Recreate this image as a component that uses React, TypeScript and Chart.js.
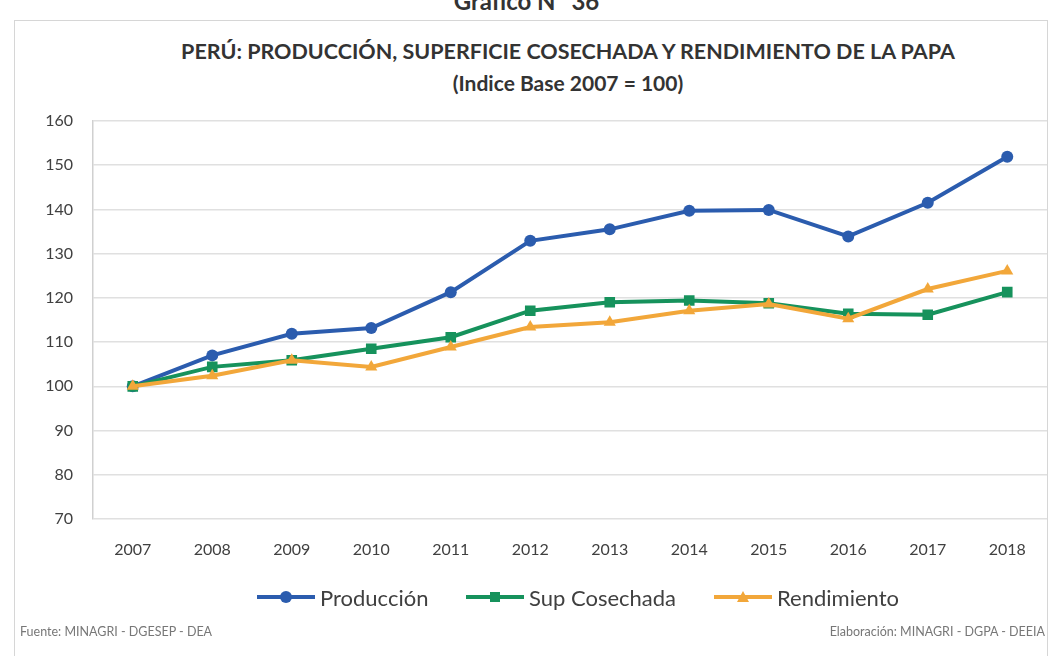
import React, { useEffect, useRef } from "react";
import { Chart, registerables } from "chart.js";

Chart.register(...registerables);

const years = ["2007", "2008", "2009", "2010", "2011", "2012", "2013", "2014", "2015", "2016", "2017", "2018"];
const produccion = [100, 107, 111.9, 113.2, 121.3, 132.9, 135.5, 139.7, 139.9, 133.9, 141.5, 151.9];
const supCosechada = [100, 104.4, 105.9, 108.5, 111.1, 117.1, 119.0, 119.4, 118.8, 116.4, 116.2, 121.3];
const rendimiento = [100, 102.4, 105.9, 104.4, 108.9, 113.4, 114.5, 117.1, 118.6, 115.3, 122.0, 126.1];
const seriesNames = ["Producción", "Sup Cosechada", "Rendimiento"];
const yMin = 70;
const yMax = 160;
const yStep = 10;

const BLUE = "#2B5CAE";
const GREEN = "#16925C";
const ORANGE = "#F2A73A";
const FONT = "Lato, 'Open Sans', sans-serif";

function LegendItem({ left, color, shape, label }: { left: number; color: string; shape: string; label: string }) {
  let marker: React.ReactNode = null;
  if (shape === "circle") marker = <circle cx={29} cy={9} r={6} fill={color} />;
  else if (shape === "rect") marker = <rect x={24} y={4} width={10} height={10} fill={color} />;
  else marker = <polygon points="29,3 35,14 23,14" fill={color} />;
  return (
    <div style={{ position: "absolute", left, top: 585, height: 24, display: "flex", alignItems: "center" }}>
      <svg width={58} height={18} style={{ display: "block" }}>
        <line x1={0} y1={9} x2={58} y2={9} stroke={color} strokeWidth={4} />
        {marker}
      </svg>
      <span style={{ marginLeft: 5, fontFamily: FONT, fontSize: 22, color: "#404040", whiteSpace: "nowrap" }}>{label}</span>
    </div>
  );
}

export default function App() {
  const canvasRef = useRef<HTMLCanvasElement | null>(null);

  useEffect(() => {
    if (!canvasRef.current) return;
    const chart = new Chart(canvasRef.current, {
      type: "line",
      data: {
        labels: years,
        datasets: [
          {
            label: seriesNames[0],
            data: produccion,
            borderColor: BLUE,
            backgroundColor: BLUE,
            borderWidth: 4,
            pointStyle: "circle",
            pointRadius: 6,
            pointBorderWidth: 0,
            order: 2,
          },
          {
            label: seriesNames[1],
            data: supCosechada,
            borderColor: GREEN,
            backgroundColor: GREEN,
            borderWidth: 4,
            pointStyle: "rect",
            pointRadius: 7.5,
            pointBorderWidth: 0,
            order: 1,
          },
          {
            label: seriesNames[2],
            data: rendimiento,
            borderColor: ORANGE,
            backgroundColor: ORANGE,
            borderWidth: 4,
            pointStyle: "triangle",
            pointRadius: 7,
            pointBorderWidth: 0,
            order: 0,
          },
        ],
      },
      options: {
        animation: false,
        responsive: false,
        maintainAspectRatio: false,
        layout: { padding: { left: 33, right: 10, top: 121, bottom: 87 } },
        plugins: { legend: { display: false }, tooltip: { enabled: false } },
        scales: {
          x: {
            offset: true,
            grid: { display: false, drawTicks: false },
            border: { display: false },
            ticks: { padding: 21, color: "#404040", font: { family: FONT, size: 16 } },
            afterFit: (s: any) => {
              s.height = 50;
            },
          },
          y: {
            min: yMin,
            max: yMax,
            ticks: { stepSize: yStep, padding: 20, color: "#404040", font: { family: FONT, size: 16 } },
            grid: { color: "#E0E0E0", lineWidth: 1.5, drawTicks: false },
            border: { display: true, color: "#D0D0D0", width: 1.5 },
            afterFit: (s: any) => {
              s.width = 60;
            },
          },
        },
      },
    });
    return () => chart.destroy();
  }, []);

  return (
    <div style={{ position: "fixed", left: 0, top: 0, width: 1057, height: 656, background: "#fff", overflow: "hidden" }}>
      <div
        style={{
          position: "absolute",
          left: 0,
          width: 1057,
          top: -14,
          textAlign: "center",
          fontFamily: FONT,
          fontWeight: 700,
          fontSize: 24,
          color: "#333",
        }}
      >
        <span style={{ position: "relative", left: -2 }}>Gráfico N° 36</span>
      </div>
      <div
        style={{
          position: "absolute",
          left: 14,
          top: 20,
          width: 1034,
          height: 700,
          border: "1.5px solid #D6D6D6",
          boxSizing: "border-box",
        }}
      />
      <div
        style={{
          position: "absolute",
          left: 0,
          width: 1136,
          top: 38,
          textAlign: "center",
          fontFamily: FONT,
          fontWeight: 700,
          fontSize: 21.5,
          color: "#333",
          whiteSpace: "nowrap",
        }}
      >
        PERÚ: PRODUCCIÓN, SUPERFICIE COSECHADA Y RENDIMIENTO DE LA PAPA
      </div>
      <div
        style={{
          position: "absolute",
          left: 0,
          width: 1136,
          top: 70,
          textAlign: "center",
          fontFamily: FONT,
          fontWeight: 700,
          fontSize: 21,
          color: "#333",
          whiteSpace: "nowrap",
        }}
      >
        (Indice Base 2007 = 100)
      </div>
      <canvas ref={canvasRef} width={1057} height={656} style={{ position: "absolute", left: 0, top: 0, width: 1057, height: 656 }} />
      <LegendItem left={257} color={BLUE} shape="circle" label={seriesNames[0]} />
      <LegendItem left={466} color={GREEN} shape="rect" label={seriesNames[1]} />
      <LegendItem left={714} color={ORANGE} shape="triangle" label={seriesNames[2]} />
      <div style={{ position: "absolute", left: 20, top: 624, fontFamily: FONT, fontSize: 12.5, color: "#777", whiteSpace: "nowrap" }}>
        Fuente: MINAGRI - DGESEP - DEA
      </div>
      <div style={{ position: "absolute", right: 12, top: 624, fontFamily: FONT, fontSize: 12.5, color: "#777", whiteSpace: "nowrap" }}>
        Elaboración: MINAGRI - DGPA - DEEIA
      </div>
    </div>
  );
}
